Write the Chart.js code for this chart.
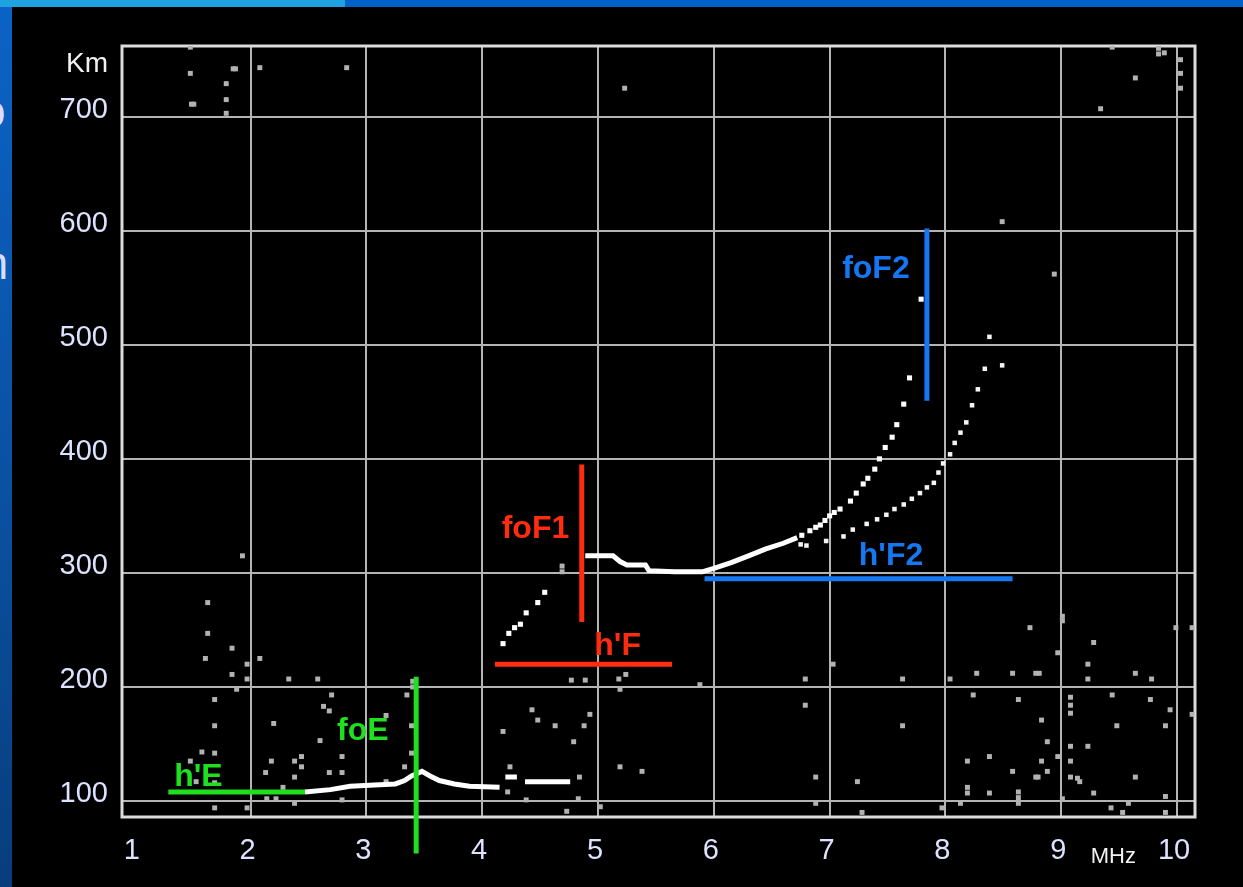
<!DOCTYPE html>
<html>
<head>
<meta charset="utf-8">
<script src="https://cdn.jsdelivr.net/npm/chart.js@4.4.1/dist/chart.umd.min.js"></script>
<style>
  html, body { margin: 0; padding: 0; }
  body {
    width: 1243px; height: 887px; overflow: hidden; position: relative;
    background: linear-gradient(180deg, #0b63c6 0%, #0a4f9e 60%, #083d7c 100%);
    font-family: "Liberation Sans", Arial, sans-serif;
  }
  #topbar { position: absolute; left: 0; top: 0; width: 1243px; height: 7px; background: #0062c8; }
  #topbar .light { position: absolute; left: 0; top: 0; width: 345px; height: 7px; background: #1fa2e2; }
  .frag { position: absolute; color: #d8deff; font-size: 46px; }
  #wrap { position: absolute; left: 12px; top: 7px; width: 1231px; height: 880px; background: #000; }
</style>
</head>
<body>
<div id="topbar"><div class="light"></div></div>
<div class="frag" style="left:-20px; top:84px;">o</div>
<div class="frag" style="left:-30px; top:236px;">m</div>
<div id="wrap"><canvas id="iono" width="1231" height="880"></canvas></div>
<script>
// tick labels
const freqTicks = [1, 2, 3, 4, 5, 6, 7, 8, 9, 10];
const heightTicks = [100, 200, 300, 400, 500, 600, 700];

// echo traces  [MHz, km]
const eTrace = [[2.47, 108], [2.69, 110], [2.86, 113], [3.07, 114], [3.25, 115], [3.33, 118], [3.39, 122],
  [3.48, 126], [3.55, 122], [3.63, 118], [3.76, 115], [3.89, 113], [4.15, 112]];
const eTail = [[4.2, 121], [4.3, 121], null, [4.37, 117], [4.76, 117]];
const f1Trace = [[4.18, 238], [4.23, 247], [4.28, 252], [4.33, 255], [4.38, 265], [4.48, 274], [4.54, 283]];
const fTrace = [[4.89, 315], [5.0, 315], [5.13, 315], [5.19, 310], [5.25, 307], [5.41, 307], [5.44, 302],
  [5.66, 301], [5.9, 301], [6.0, 304], [6.15, 309], [6.3, 315], [6.45, 321], [6.6, 326], [6.72, 331]];
const oTrace = [[6.76, 333], [6.83, 337], [6.88, 340], [6.92, 342], [6.96, 346], [7.0, 350], [7.04, 353],
  [7.09, 356], [7.18, 363], [7.23, 370], [7.29, 378], [7.33, 383], [7.39, 391], [7.43, 400], [7.48, 410],
  [7.54, 419], [7.58, 430], [7.64, 448], [7.69, 471], [7.79, 540]];
const xTrace = [[6.75, 325], [6.8, 324], [6.97, 328], [7.12, 332], [7.2, 338], [7.32, 343], [7.41, 347],
  [7.49, 351], [7.56, 356], [7.64, 360], [7.71, 365], [7.78, 370], [7.84, 375], [7.9, 379], [7.94, 388],
  [7.98, 396], [8.04, 404], [8.08, 414], [8.13, 423], [8.18, 432], [8.23, 447], [8.28, 461], [8.34, 479],
  [8.38, 507], [8.49, 482]];

// scattered noise echoes
const noise = [[1.63, 274], [1.63, 247], [1.61, 225], [1.84, 234], [2.08, 225], [1.97, 220], [1.84, 211],
  [1.97, 207], [1.88, 198], [2.33, 207], [2.58, 207], [1.69, 189], [2.70, 193], [2.63, 183], [2.68, 179],
  [3.35, 193], [1.69, 166], [2.20, 168], [2.60, 153], [3.17, 175], [3.39, 166], [1.58, 143], [1.69, 142],
  [1.48, 135], [2.18, 135], [2.38, 135], [2.44, 139], [2.44, 130], [2.79, 139], [3.39, 142], [2.13, 125],
  [2.68, 125], [2.79, 125], [2.38, 121], [2.28, 112], [1.69, 116], [1.53, 117], [2.14, 102], [2.38, 98],
  [1.69, 94], [1.97, 94], [2.79, 101], [3.17, 117], [3.33, 130], [4.18, 161], [4.79, 152], [4.24, 130],
  [4.84, 121], [4.22, 108], [4.38, 101], [4.73, 91], [2.22, 102], [4.83, 102], [4.43, 180], [4.48, 171],
  [4.63, 166], [4.88, 166], [4.93, 176], [4.77, 206], [4.89, 206], [5.02, 95], [5.18, 207], [5.24, 211],
  [5.19, 198], [5.88, 202], [6.79, 207], [7.63, 207], [8.04, 207], [8.27, 212], [8.58, 212], [8.78, 212],
  [8.81, 212], [8.73, 252], [9.01, 258], [9.01, 262], [9.28, 239], [9.23, 220], [9.23, 207], [9.64, 212],
  [9.78, 207], [9.99, 252], [10.13, 252], [7.03, 220], [8.24, 193], [8.63, 189], [9.08, 191], [9.08, 177],
  [9.08, 184], [9.44, 193], [9.77, 189], [9.94, 180], [8.83, 171], [6.79, 184], [7.63, 166], [9.48, 166],
  [9.90, 166], [8.88, 152], [9.08, 148], [9.23, 148], [8.38, 139], [8.19, 135], [8.83, 135], [9.08, 135],
  [8.88, 126], [8.78, 121], [8.80, 121], [8.58, 126], [9.08, 121], [9.16, 117], [9.14, 120], [9.64, 121],
  [6.88, 121], [7.24, 117], [5.19, 130], [5.38, 126], [8.19, 107], [8.19, 112], [8.38, 107], [8.63, 108],
  [8.63, 103], [8.63, 98], [9.28, 107], [9.90, 104], [6.88, 98], [7.28, 90], [7.97, 94], [9.01, 102],
  [9.43, 94], [9.53, 90], [9.90, 90], [9.58, 98], [8.13, 98], [10.13, 176], [8.97, 230], [8.97, 139],
  [1.48, 761], [1.48, 738], [1.85, 742], [1.87, 742], [2.08, 743], [2.83, 743], [1.79, 729], [1.79, 715],
  [1.49, 711], [1.51, 711], [1.79, 703], [5.23, 725], [8.49, 608], [8.94, 562], [9.34, 707], [9.64, 734],
  [9.44, 761], [9.84, 760], [9.84, 755], [9.89, 756], [10.03, 750], [10.03, 738], [10.03, 725],
  [1.93, 315], [4.69, 306], [4.69, 301], [3.40, 205], [3.40, 200]];

// scaled parameters (marker lines)
const hE = [[1.29, 108], [2.47, 108]];
const foE = [[3.43, 209], [3.43, 54]];
const foF1 = [[4.86, 395], [4.86, 257]];
const hF = [[4.11, 220], [5.64, 220]];
const foF2 = [[7.84, 602], [7.84, 451]];
const hF2 = [[5.92, 295], [8.58, 295]];

const GREEN = '#1fe01f', RED = '#ff2c10', BLUE = '#1677f2';

const pts = arr => arr.map(p => p ? { x: p[0], y: p[1] } : { x: null, y: null });

const marker = (data, color) => ({
  data: pts(data), showLine: true, borderColor: color, borderWidth: 5,
  pointRadius: 0, clip: false, borderCapStyle: 'butt'
});
const trace = data => ({
  data: pts(data), showLine: true, borderColor: '#ffffff', borderWidth: 5,
  pointRadius: 0, spanGaps: false
});
const dots = (data, color, r) => ({
  data: pts(data), showLine: false, pointStyle: 'rect', pointRadius: r,
  backgroundColor: color, borderWidth: 0
});

const annotations = [
  { text: "h'E", x: 1.55, y: 121, color: GREEN },
  { text: 'foE', x: 2.97, y: 161, color: GREEN },
  { text: 'foF1', x: 4.46, y: 338, color: RED },
  { text: "h'F", x: 5.17, y: 236, color: RED },
  { text: 'foF2', x: 7.40, y: 566, color: BLUE },
  { text: "h'F2", x: 7.53, y: 315, color: BLUE }
];

const framePlugin = {
  id: 'frame',
  beforeDatasetsDraw(chart) {
    const { ctx, chartArea: a } = chart;
    ctx.save();
    ctx.strokeStyle = '#dcdcdc';
    ctx.lineWidth = 3;
    ctx.strokeRect(a.left, a.top, a.right - a.left, a.bottom - a.top);
    ctx.restore();
  },
  afterDatasetsDraw(chart) {
    const { ctx } = chart;
    const xs = chart.scales.x, ys = chart.scales.y;
    ctx.save();
    ctx.textAlign = 'center';
    ctx.textBaseline = 'middle';
    ctx.font = 'bold 32px "Liberation Sans", Arial, sans-serif';
    annotations.forEach(a => {
      ctx.fillStyle = a.color;
      ctx.fillText(a.text, xs.getPixelForValue(a.x), ys.getPixelForValue(a.y));
    });
    ctx.fillStyle = '#f2f2f2';
    ctx.font = '28px "Liberation Sans", Arial, sans-serif';
    ctx.textAlign = 'right';
    ctx.fillText('Km', ys.right - 14, ys.getPixelForValue(746));
    ctx.font = '22px "Liberation Sans", Arial, sans-serif';
    ctx.textAlign = 'center';
    ctx.fillText('MHz', xs.getPixelForValue(9.45), xs.top + 40);
    ctx.restore();
  }
};

new Chart(document.getElementById('iono'), {
  type: 'scatter',
  data: {
    datasets: [
      marker(hE, GREEN), marker(foE, GREEN), marker(foF1, RED), marker(hF, RED),
      marker(foF2, BLUE), marker(hF2, BLUE),
      trace(eTrace), trace(eTail), trace(fTrace),
      dots(oTrace, '#ffffff', 3.6), dots(xTrace, '#f4f4f4', 3.2), dots(f1Trace, '#ffffff', 3.6),
      dots(noise, '#b2b2b2', 3.5)
    ]
  },
  options: {
    responsive: false,
    animation: false,
    devicePixelRatio: 1,
    layout: { padding: { top: 39, right: 48, left: 0, bottom: 0 } },
    plugins: { legend: { display: false }, tooltip: { enabled: false } },
    scales: {
      x: {
        type: 'linear', min: 0.89, max: 10.155,
        afterBuildTicks: s => { s.ticks = freqTicks.map(v => ({ value: v })); },
        afterFit: s => { s.height = 70; },
        border: { display: false },
        grid: {
          drawTicks: false, lineWidth: 2,
          color: c => (c.tick && c.tick.value === 1) ? 'rgba(0,0,0,0)' : '#b4b4b4'
        },
        ticks: {
          padding: 17, labelOffset: -3, color: '#dde3ff', maxRotation: 0, autoSkip: false,
          font: { family: '"Liberation Sans", Arial, sans-serif', size: 29 }
        }
      },
      y: {
        type: 'linear', min: 86, max: 762,
        afterBuildTicks: s => { s.ticks = heightTicks.map(v => ({ value: v })); },
        afterFit: s => { s.width = 110; },
        border: { display: false },
        grid: { drawTicks: false, lineWidth: 2, color: '#b4b4b4' },
        ticks: {
          padding: 14, labelOffset: -7, color: '#dde3ff', autoSkip: false,
          font: { family: '"Liberation Sans", Arial, sans-serif', size: 29 }
        }
      }
    }
  },
  plugins: [framePlugin]
});
</script>
</body>
</html>
